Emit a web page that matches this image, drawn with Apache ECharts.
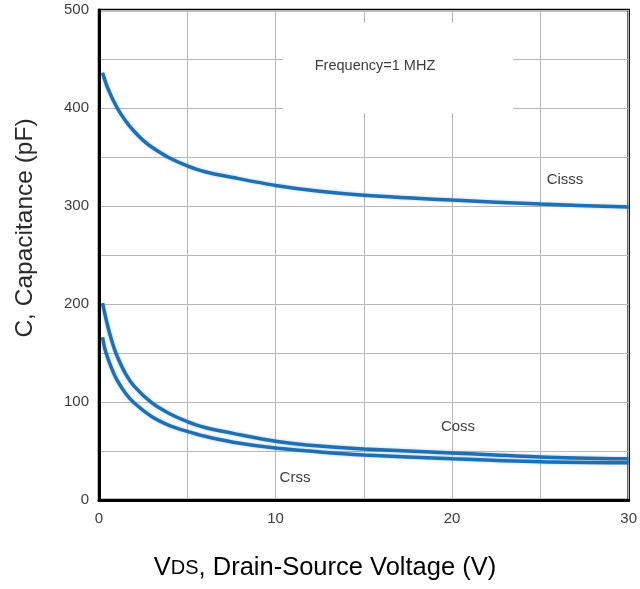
<!DOCTYPE html>
<html>
<head>
<meta charset="utf-8">
<script src="https://cdn.jsdelivr.net/npm/echarts@6/dist/echarts.min.js"></script>
<style>html,body{margin:0;padding:0;background:#fff;}#c{width:640px;height:589px;}</style>
</head>
<body>
<div id="c"></div>
<script>
const xTicks = [0, 10, 20, 30];
const yTicks = [0, 100, 200, 300, 400, 500];

const cissV = [0.2, 0.5, 1, 1.5, 2, 2.5, 3, 4, 5, 6, 7.6, 10, 12.5, 15, 20, 25, 30];
const cissC = [436, 420, 401, 387, 376, 367, 360, 349, 341, 335, 329, 321, 315, 311, 306, 302, 299];

const cossV = [0.2, 0.5, 0.75, 1, 1.5, 2, 3, 4, 5, 6, 7.6, 10, 12.5, 15, 20, 25, 30];
const cossC = [201, 177, 161, 148, 129, 116, 99, 88, 80, 74, 68, 60, 55, 52, 48, 44, 42];

const crssV = [0.2, 0.35, 0.7, 1, 1.5, 2, 3, 4, 5, 6, 7.6, 10, 12.5, 15, 20, 25, 30];
const crssC = [166, 153, 135, 123, 109, 99, 85, 76, 70, 65, 59, 53, 49, 46, 42, 39, 38];

const pairs = (xs, ys) => xs.map((x, i) => [x, ys[i]]);
const lineColor = '#1f6fb3';
const txt = '#3d3d3d';
const ff = '"Liberation Sans", Arial, sans-serif';

const chart = echarts.init(document.getElementById('c'));
const mkSeries = (name, xs, ys) => ({
  name, type: 'line', smooth: 0.3, showSymbol: false, data: pairs(xs, ys),
  lineStyle: { color: lineColor, width: 3.5, shadowColor: 'rgba(31,111,179,0.35)', shadowBlur: 3 },
  z: 5
});
chart.setOption({
  animation: false,
  backgroundColor: '#fff',
  grid: { left: 99, right: 10, top: 10, bottom: 89, show: true, borderColor: '#000', borderWidth: 2.5, backgroundColor: 'transparent' },
  xAxis: {
    type: 'value', min: 0, max: 30, interval: 5,
    axisLine: { show: true, lineStyle: { color: '#000', width: 3 } },
    axisTick: { show: false },
    axisLabel: { color: txt, fontSize: 15, fontFamily: ff, margin: 11,
      formatter: v => xTicks.includes(v) ? String(v) : '' },
    splitLine: { show: true, lineStyle: { color: '#b8b8b8', width: 1 } }
  },
  yAxis: {
    type: 'value', min: 0, max: 500, interval: 50,
    axisLine: { show: true, lineStyle: { color: '#000', width: 3 } },
    axisTick: { show: false },
    axisLabel: { color: txt, fontSize: 15, fontFamily: ff, margin: 10,
      formatter: v => yTicks.includes(v) ? String(v) : '' },
    splitLine: { show: true, lineStyle: { color: '#b8b8b8', width: 1 } }
  },
  series: [
    mkSeries('Ciss', cissV, cissC),
    mkSeries('Coss', cossV, cossC),
    mkSeries('Crss', crssV, crssC)
  ],
  graphic: [
    { type: 'rect', shape: { x: 283, y: 23, width: 230, height: 90 }, style: { fill: '#fff' }, z: 1 },
    { type: 'text', x: 375, y: 66, style: { text: 'Frequency=1 MHZ', fill: txt, font: '14.5px ' + ff, textAlign: 'center', textVerticalAlign: 'middle' }, z: 10 },
    { type: 'text', x: 565, y: 180, style: { text: 'Cisss', fill: txt, font: '15px ' + ff, textAlign: 'center', textVerticalAlign: 'middle' }, z: 10 },
    { type: 'text', x: 458, y: 427, style: { text: 'Coss', fill: txt, font: '15px ' + ff, textAlign: 'center', textVerticalAlign: 'middle' }, z: 10 },
    { type: 'text', x: 295, y: 478, style: { text: 'Crss', fill: txt, font: '15px ' + ff, textAlign: 'center', textVerticalAlign: 'middle' }, z: 10 },
    { type: 'text', x: 25, y: 228, rotation: Math.PI / 2,
      style: { text: 'C, Capacitance (pF)', fill: '#2a2a2a', font: '24.5px ' + ff, textAlign: 'center', textVerticalAlign: 'middle' }, z: 10 },
    { type: 'text', x: 325, y: 568,
      style: { text: '{v|V}{s|DS}{v|, Drain-Source Voltage (V)}', textAlign: 'center', textVerticalAlign: 'middle',
        rich: { v: { fontSize: 25.5, fontFamily: ff, color: '#222' },
                s: { fontSize: 20, fontFamily: ff, color: '#222' } } }, z: 10 }
  ]
});
</script>
</body>
</html>
